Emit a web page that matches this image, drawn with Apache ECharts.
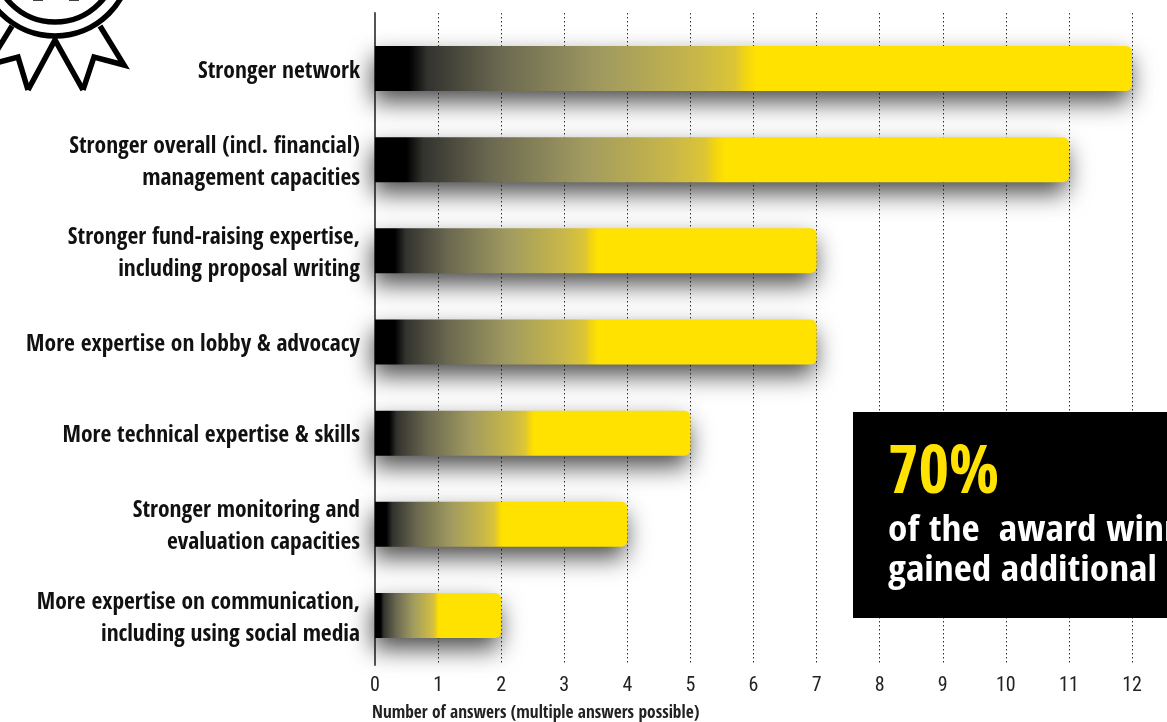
<!DOCTYPE html>
<html>
<head>
<meta charset="utf-8">
<style>html,body{margin:0;padding:0;background:#fff}#c{width:1167px;height:722px}</style>
<script src="https://cdn.jsdelivr.net/npm/echarts@6/dist/echarts.min.js"></script>
</head>
<body>
<div id="c"></div>
<script>
const categories = [
  'Stronger network',
  'Stronger overall (incl. financial)\nmanagement capacities',
  'Stronger fund-raising expertise,\nincluding proposal writing',
  'More expertise on lobby & advocacy',
  'More technical expertise & skills',
  'Stronger monitoring and\nevaluation capacities',
  'More expertise on communication,\nincluding using social media'
];
const answers = [12, 11, 7, 7, 5, 4, 2];
const axisTitle = 'Number of answers (multiple answers possible)';
const calloutBig = '70%';
const calloutLine1 = 'of the  award winners';
const calloutLine2 = 'gained additional funding';

const FONT = '"Open Sans Condensed", "Roboto Condensed", sans-serif';
const TICKFONT = '"Roboto Condensed", "Open Sans Condensed", sans-serif';
const YELLOW = '#FFE200';
const ramp = new echarts.graphic.LinearGradient(0, 0, 1, 0, [
  {offset: 0, color: '#000'},
  {offset: 0.045, color: '#000'},
  {offset: 0.07, color: '#33332f'},
  {offset: 0.165, color: '#6a6850'},
  {offset: 0.30, color: '#a09a60'},
  {offset: 0.43, color: '#c9b848'},
  {offset: 0.475, color: '#dcc535'},
  {offset: 0.49, color: '#f3d510'},
  {offset: 0.505, color: YELLOW},
  {offset: 1, color: YELLOW}
]);

const chart = echarts.init(document.getElementById('c'), null, {renderer: 'canvas'});
const icon = {fill: 'none', stroke: '#000', lineWidth: 5.5, lineJoin: 'miter'};
const hiddenX = (g) => ({
  gridIndex: g, type: 'value', min: 0, max: 12, interval: 1,
  axisLine: {show: false}, axisTick: {show: false},
  axisLabel: {show: false}, splitLine: {show: false}
});
chart.setOption({
  animation: false,
  backgroundColor: '#fff',
  title: {
    text: axisTitle, left: 367, top: 700,
    textStyle: {fontFamily: FONT, fontSize: 17.4, fontWeight: 'bold', color: '#222'}
  },
  grid: [
    {left: 375, right: 35, top: 13, bottom: 57, outerBoundsMode: 'none'},
    {left: 375, right: 35, top: 23, bottom: 61, outerBoundsMode: 'none'},
    {left: 375, right: 35, top: 26, bottom: 58, outerBoundsMode: 'none'}
  ],
  xAxis: [
    {
      gridIndex: 0, type: 'value', min: 0, max: 12, interval: 1,
      axisLine: {show: false}, axisTick: {show: false},
      axisLabel: {fontFamily: TICKFONT, fontSize: 20, color: '#222', margin: 11},
      splitLine: {show: true, lineStyle: {type: [1.5, 2.5], color: '#333', width: 1}}
    },
    hiddenX(1),
    hiddenX(2)
  ],
  yAxis: [
    {
      gridIndex: 0, type: 'category', data: [''],
      axisLine: {show: true, lineStyle: {color: '#555', width: 2}},
      axisTick: {show: false}, axisLabel: {show: false}, splitLine: {show: false}
    },
    {
      gridIndex: 1, type: 'category', inverse: true, data: categories,
      axisLine: {show: false}, axisTick: {show: false}, axisLabel: {show: false}
    },
    {
      gridIndex: 2, type: 'category', inverse: true, data: categories,
      axisLine: {show: false}, axisTick: {show: false},
      axisLabel: {
        fontFamily: FONT, fontSize: 23.5, fontWeight: 'bold', color: '#111',
        lineHeight: 32, margin: 15, align: 'right'
      }
    }
  ],
  series: [{
    type: 'bar', xAxisIndex: 1, yAxisIndex: 1, data: answers, barWidth: 45,
    itemStyle: {
      color: ramp, borderRadius: [0, 6, 6, 0],
      shadowColor: 'rgba(0,0,0,0.7)', shadowBlur: 24, shadowOffsetX: -2, shadowOffsetY: 11
    }
  }],
  graphic: [
    {type: 'rect', z: 100, shape: {x: 853, y: 412, width: 314, height: 206}, style: {fill: '#000'}},
    {type: 'text', z: 101, style: {x: 888, y: 443, text: calloutBig, fill: YELLOW, font: 'bold 66px ' + FONT}},
    {type: 'text', z: 101, originX: 888, scaleX: 1.09, style: {x: 888, y: 514, text: calloutLine1, fill: '#fff', font: 'bold 36px ' + FONT}},
    {type: 'text', z: 101, originX: 888, scaleX: 1.09, style: {x: 888, y: 554, text: calloutLine2, fill: '#fff', font: 'bold 36px ' + FONT}},
    {type: 'group', z: 50, children: [
      {type: 'circle', shape: {cx: 55, cy: -40, r: 76}, style: icon},
      {type: 'circle', shape: {cx: 55, cy: -40, r: 62}, style: icon},
      {type: 'polyline', shape: {points: [[100, 26], [124, 65], [94, 57], [83, 90]]}, style: icon},
      {type: 'polyline', shape: {points: [[28, 90], [55, 40], [83, 90]]}, style: icon},
      {type: 'polyline', shape: {points: [[28, 90], [18, 57], [-12, 65], [12, 26]]}, style: icon},
      {type: 'polyline', shape: {points: [[33, -2], [43, -2]]}, style: icon},
      {type: 'polyline', shape: {points: [[69, -2], [79, -2]]}, style: icon}
    ]}
  ]
});
</script>
</body>
</html>
